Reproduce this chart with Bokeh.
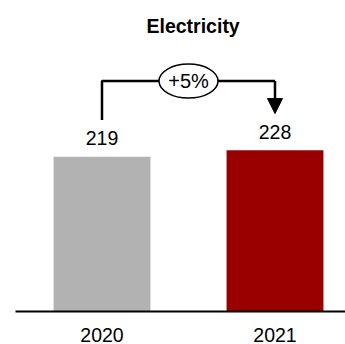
from bokeh.plotting import figure
from bokeh.models import Range1d, FixedTicker, Arrow, NormalHead
from bokeh.core.properties import value
from bokeh.embed import file_html
from bokeh.resources import INLINE

# Data
years = ["2020", "2021"]
consumption = [219, 228]
bar_colors = ["#b2b2b2", "#990000"]
growth_label = "+5%"
title_text = "Electricity"

FONT = "Liberation Sans"
xs = list(range(len(years)))

PX_PER_UNIT = 0.712
TOP_SPACE = 41
y_end = (313 - TOP_SPACE) / PX_PER_UNIT

p = figure(width=345, height=344, output_backend="svg", toolbar_location=None,
           x_range=Range1d(-0.5, 1.4075), y_range=Range1d(0, y_end),
           min_border_left=15, min_border_right=0, min_border_top=TOP_SPACE,
           min_border_bottom=31)

p.title.text = title_text
p.title.align = "left"
p.title.offset = 131
p.title.text_font = FONT
p.title.text_font_size = "19.5px"
p.title.text_font_style = "bold"
p.title.text_color = "black"

# Bars
p.vbar(x=xs, top=consumption, width=0.56, fill_color=bar_colors,
       line_color=None)

# Value labels above bars
label_gap = 26
p.text(x=xs, y=[v + label_gap for v in consumption],
       text=[str(v) for v in consumption], text_align="center",
       text_baseline="middle", text_font=value(FONT),
       text_font_size="19.5px", text_color="black")

# Growth bracket from the first bar to the second
stem_gap = 52
bracket_top = max(consumption) + 98
p.line(x=[xs[0], xs[0], xs[1], xs[1]],
       y=[consumption[0] + stem_gap, bracket_top, bracket_top, bracket_top],
       line_color="black", line_width=2.5)
p.add_layout(Arrow(end=NormalHead(size=15, fill_color="black",
                                  line_color="black", line_width=1),
                   x_start=xs[1], y_start=bracket_top,
                   x_end=xs[1], y_end=consumption[1] + stem_gap,
                   line_color="black", line_width=2.5))

mid_x = sum(xs) / len(xs)
p.ellipse(x=[mid_x], y=[bracket_top], width=59, height=34,
          width_units="screen", height_units="screen",
          fill_color="white", line_color="black", line_width=1.5)
p.text(x=[mid_x], y=[bracket_top], text=[growth_label], text_align="center",
       text_baseline="middle", text_font=value(FONT), text_font_size="20px",
       text_color="black")

# Axes and styling
p.xaxis.ticker = FixedTicker(ticks=xs)
p.xaxis.major_label_overrides = {x: y for x, y in zip(xs, years)}
p.xaxis.major_tick_line_color = None
p.xaxis.minor_tick_line_color = None
p.xaxis.axis_line_color = "black"
p.xaxis.axis_line_width = 2
p.xaxis.major_label_text_font = FONT
p.xaxis.major_label_text_font_size = "19.5px"
p.xaxis.major_label_text_color = "black"
p.xaxis.major_label_standoff = 10
p.yaxis.visible = False
p.xgrid.grid_line_color = None
p.ygrid.grid_line_color = None
p.outline_line_color = None
p.background_fill_color = "white"
p.border_fill_color = "white"

open("out.html", "w").write(file_html(p, INLINE))
